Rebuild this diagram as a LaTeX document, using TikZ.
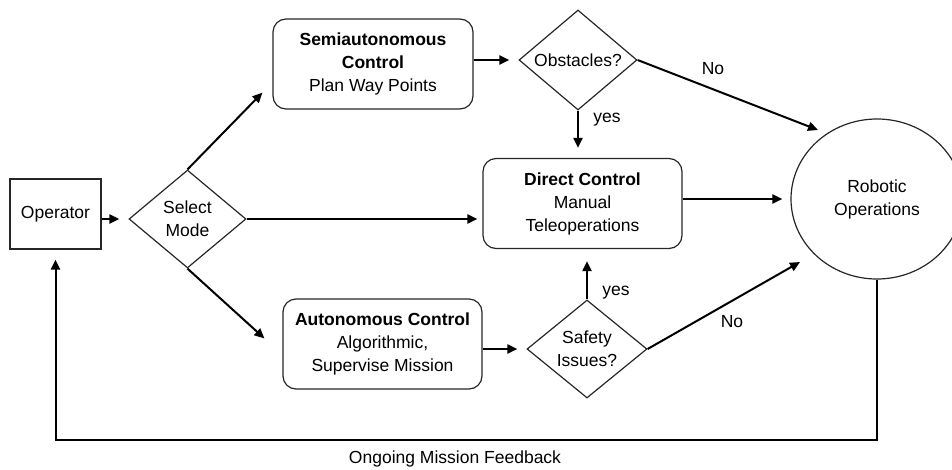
\documentclass[tikz,border=0pt]{standalone}
\usepackage{fontspec}
\setmainfont{Liberation Sans}
\usetikzlibrary{shapes.geometric,arrows.meta,calc}
\begin{document}
\begin{tikzpicture}[x=1pt,y=-1pt,
  every node/.style={font=\fontsize{17.5}{23}\selectfont},
  box/.style={draw=black!85,line width=1.2pt,align=center,inner sep=0pt},
  rbox/.style={box,rounded corners=13pt,minimum width=199pt,minimum height=90pt},
  dia/.style={box,diamond,aspect=1.2},
  arr/.style={line width=2pt,-{Triangle[length=10pt,width=9pt]}},
  lbl/.style={inner sep=0pt}
]
\useasboundingbox (0,0) rectangle (952,469);
\node[box,minimum width=91pt,minimum height=70pt] (op) at (55.5,214) {Operator};
\node[dia,minimum width=117pt,minimum height=98pt] (sel) at (187.5,219) {Select\\Mode};
\node[rbox,minimum width=200pt] (semi) at (373,64) {\textbf{Semiautonomous}\\\textbf{Control}\\Plan Way Points};
\node[dia,minimum width=118pt,minimum height=100pt] (obs) at (578,60) {Obstacles?};
\node[rbox] (direct) at (582.5,203.5) {\textbf{Direct Control}\\Manual\\Teleoperations};
\node[rbox] (auto) at (382.5,344) {\textbf{Autonomous Control}\\Algorithmic,\\Supervise Mission};
\node[dia,minimum width=120pt,minimum height=98pt] (safe) at (587,349) {Safety\\Issues?};
\node[box,ellipse,minimum width=172pt,minimum height=160pt] (robot) at (877,199) {Robotic\\Operations};

\draw[arr,shorten >=9pt] (op.east |- sel.west) -- (sel.west);
\draw[arr] (sel.north) -- ($(semi.south west)+(-10,-17)$);
\draw[arr] (sel.south) -- ($(auto.north west)+(-18,40)$);
\draw[arr,shorten >=5pt] (sel.east) -- (direct.west |- sel.east);
\draw[arr,shorten >=9pt] (semi.east |- obs.west) -- (obs.west);
\draw[arr,shorten >=10pt] (obs.south) -- (obs.south |- direct.north);
\draw[arr] (obs.east) -- ($(robot.center)+(-59,-69)$);
\draw[arr,shorten >=8pt] (direct.east |- robot.west) -- (robot.west);
\draw[arr,shorten >=9pt] (auto.east |- safe.west) -- (safe.west);
\draw[arr,shorten >=12pt] (safe.north) -- (safe.north |- direct.south);
\draw[arr] (safe.east) -- ($(robot.center)+(-77,63)$);
\draw[arr,shorten >=10pt] (robot.south) -- ++(0,160) -| (op.south);

\node[lbl] (no1) at (713,69) {No};
\node[lbl] (yes1) at (607,120) {yes};
\node[lbl] (yes2) at (616,293) {yes};
\node[lbl] (no2) at (732,322) {No};
\node[lbl] (fbl) at (455,459) {Ongoing Mission Feedback};
\end{tikzpicture}
\end{document}
